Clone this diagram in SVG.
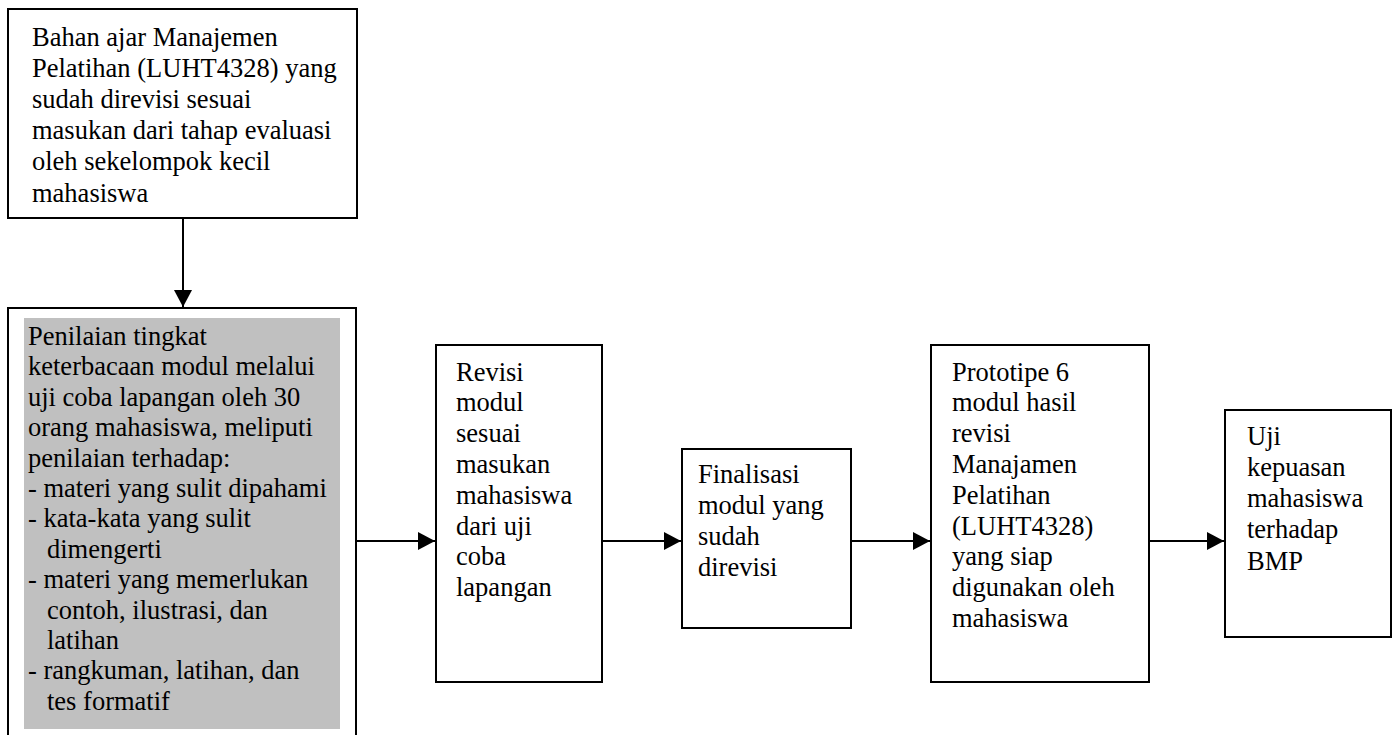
<svg xmlns="http://www.w3.org/2000/svg" width="1400" height="735" viewBox="0 0 1400 735">
<style>
.box{fill:#fff;stroke:#000;stroke-width:2}
.t{font-family:"Liberation Serif","Times New Roman",serif;font-size:26.5px;fill:#000}
.c{stroke:#000;stroke-width:2;fill:none}
</style>
<defs>
<marker id="ah" markerWidth="17" markerHeight="18" refX="17" refY="9" orient="auto" markerUnits="userSpaceOnUse">
<path d="M0,0 L17,9 L0,18 Z" fill="#000"/>
</marker>
</defs>
<rect width="1400" height="735" fill="#fff"/>
<g id="n1">
<rect class="box" x="8" y="9" width="349" height="209"/>
<text class="t" x="32" y="45.5">Bahan ajar Manajemen</text>
<text class="t" x="32" y="76.7">Pelatihan (LUHT4328) yang</text>
<text class="t" x="32" y="107.9">sudah direvisi sesuai</text>
<text class="t" x="32" y="139.1">masukan dari tahap evaluasi</text>
<text class="t" x="32" y="170.3">oleh sekelompok kecil</text>
<text class="t" x="32" y="201.5">mahasiswa</text>
</g>
<g id="n2">
<rect class="box" x="8" y="308" width="348" height="440"/>
<rect x="24" y="318" width="316" height="411" fill="#c0c0c0"/>
<text class="t" x="28" y="345">Penilaian tingkat</text>
<text class="t" x="28" y="375.4">keterbacaan modul melalui</text>
<text class="t" x="28" y="405.8">uji coba lapangan oleh 30</text>
<text class="t" x="28" y="436.2">orang mahasiswa, meliputi</text>
<text class="t" x="28" y="466.6">penilaian terhadap:</text>
<text class="t" x="28" y="497">- materi yang sulit dipahami</text>
<text class="t" x="28" y="527.4">- kata-kata yang sulit</text>
<text class="t" x="47" y="557.8">dimengerti</text>
<text class="t" x="28" y="588.2">- materi yang memerlukan</text>
<text class="t" x="47" y="618.6">contoh, ilustrasi, dan</text>
<text class="t" x="47" y="649">latihan</text>
<text class="t" x="28" y="679.4">- rangkuman, latihan, dan</text>
<text class="t" x="47" y="709.8">tes formatif</text>
</g>
<g id="n3">
<rect class="box" x="436" y="345" width="166" height="337"/>
<text class="t" x="456" y="380.5">Revisi</text>
<text class="t" x="456" y="411.3">modul</text>
<text class="t" x="456" y="442.1">sesuai</text>
<text class="t" x="456" y="472.9">masukan</text>
<text class="t" x="456" y="503.7">mahasiswa</text>
<text class="t" x="456" y="534.5">dari uji</text>
<text class="t" x="456" y="565.3">coba</text>
<text class="t" x="456" y="596.1">lapangan</text>
</g>
<g id="n4">
<rect class="box" x="682" y="449" width="169" height="179"/>
<text class="t" x="698" y="482.5">Finalisasi</text>
<text class="t" x="698" y="513.8">modul yang</text>
<text class="t" x="698" y="545.1">sudah</text>
<text class="t" x="698" y="576.4">direvisi</text>
</g>
<g id="n5">
<rect class="box" x="931" y="345" width="218" height="337"/>
<text class="t" x="952" y="380.5">Prototipe 6</text>
<text class="t" x="952" y="411.3">modul hasil</text>
<text class="t" x="952" y="442.1">revisi</text>
<text class="t" x="952" y="472.9">Manajamen</text>
<text class="t" x="952" y="503.7">Pelatihan</text>
<text class="t" x="952" y="534.5">(LUHT4328)</text>
<text class="t" x="952" y="565.3">yang siap</text>
<text class="t" x="952" y="596.1">digunakan oleh</text>
<text class="t" x="952" y="626.9">mahasiswa</text>
</g>
<g id="n6">
<rect class="box" x="1225" y="410" width="166" height="227"/>
<text class="t" x="1247" y="444.5">Uji</text>
<text class="t" x="1247" y="475.8">kepuasan</text>
<text class="t" x="1247" y="507.1">mahasiswa</text>
<text class="t" x="1247" y="538.4">terhadap</text>
<text class="t" x="1247" y="569.7">BMP</text>
</g>
<g id="connectors">
<line class="c" x1="183" y1="218" x2="183" y2="307" marker-end="url(#ah)"/>
<line class="c" x1="356" y1="541" x2="435" y2="541" marker-end="url(#ah)"/>
<line class="c" x1="602" y1="541" x2="681" y2="541" marker-end="url(#ah)"/>
<line class="c" x1="851" y1="541" x2="930" y2="541" marker-end="url(#ah)"/>
<line class="c" x1="1149" y1="541" x2="1224" y2="541" marker-end="url(#ah)"/>
</g>
</svg>
